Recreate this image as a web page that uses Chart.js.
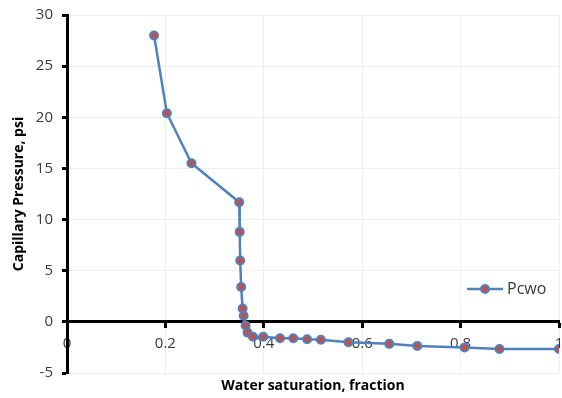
<!DOCTYPE html>
<html>
<head>
<meta charset="utf-8">
<script src="https://cdn.jsdelivr.net/npm/chart.js@4/dist/chart.umd.min.js"></script>
<style>
  html, body { margin: 0; padding: 0; background: #fff; overflow: hidden; }
  #wrap { position: relative; width: 562px; height: 398px; overflow: hidden; }
</style>
</head>
<body>
<div id="wrap"><canvas id="c" width="567" height="398"></canvas></div>
<script>
// Water-oil capillary pressure curve
const waterSaturation = [0.177, 0.203, 0.253, 0.350, 0.351, 0.352, 0.354, 0.357, 0.359, 0.363, 0.367,
                         0.378, 0.399, 0.433, 0.460, 0.488, 0.516, 0.572, 0.655, 0.712, 0.808, 0.879, 1.000];
const capillaryPressure = [28.0, 20.4, 15.5, 11.7, 8.8, 6.0, 3.4, 1.3, 0.6, -0.35, -1.05,
                           -1.45, -1.45, -1.6, -1.6, -1.7, -1.75, -2.0, -2.15, -2.35, -2.5, -2.65, -2.65];
const seriesName = 'Pcwo';
const xTickValues = [0, 0.2, 0.4, 0.6, 0.8, 1];
const yTickValues = [-5, 0, 5, 10, 15, 20, 25, 30];
const xAxisTitle = 'Water saturation, fraction';
const yAxisTitle = 'Capillary Pressure, psi';

const LINE = '#4F81BD';
const MARK = '#C0504D';
const TEXT = '#3a3a3a';
const FONT = '"Open Sans"';

// Axis titles and the legend entry, drawn on top of the plot
const overlay = {
  id: 'overlay',
  afterDraw(chart) {
    const { ctx, chartArea: a } = chart;
    ctx.save();
    ctx.fillStyle = '#000';
    ctx.font = `bold 14px ${FONT}`;
    ctx.textAlign = 'center';
    ctx.textBaseline = 'middle';
    ctx.fillText(xAxisTitle, (a.left + a.right) / 2, a.bottom + 13);
    ctx.save();
    ctx.translate(19, (a.top + a.bottom) / 2);
    ctx.rotate(-Math.PI / 2);
    ctx.fillText(yAxisTitle, 0, 0);
    ctx.restore();

    // legend
    const ly = a.top + 274;
    const lx = a.right - 92;
    ctx.strokeStyle = LINE;
    ctx.lineWidth = 2.5;
    ctx.beginPath();
    ctx.moveTo(lx, ly);
    ctx.lineTo(lx + 36, ly);
    ctx.stroke();
    ctx.beginPath();
    ctx.arc(lx + 18, ly, 4, 0, Math.PI * 2);
    ctx.fillStyle = MARK;
    ctx.fill();
    ctx.lineWidth = 2;
    ctx.stroke();
    ctx.fillStyle = TEXT;
    ctx.font = `16px ${FONT}`;
    ctx.textAlign = 'left';
    ctx.fillText(seriesName, lx + 40, ly);
    ctx.restore();
  }
};

const tickFont = { family: FONT, size: 15 };

new Chart(document.getElementById('c'), {
  type: 'scatter',
  data: {
    datasets: [{
      label: seriesName,
      data: waterSaturation.map((x, i) => ({ x, y: capillaryPressure[i] })),
      showLine: true,
      borderColor: LINE,
      borderWidth: 2.5,
      pointRadius: 4,
      pointBorderWidth: 2,
      pointBackgroundColor: MARK,
      pointBorderColor: LINE,
      tension: 0
    }]
  },
  options: {
    responsive: false,
    animation: false,
    layout: { padding: { left: 0, right: 8, top: 15, bottom: 25 } },
    plugins: { legend: { display: false }, tooltip: { enabled: false } },
    scales: {
      x: {
        type: 'linear',
        position: { y: 0 },
        min: 0,
        max: 1,
        afterBuildTicks: s => { s.ticks = xTickValues.map(v => ({ value: v })); },
        afterFit: s => { s.paddingLeft = 0; s.paddingRight = 0; },
        ticks: {
          autoSkip: false, maxRotation: 0, padding: 8, color: TEXT, font: tickFont,
          callback: v => String(Math.round(v * 10) / 10)
        },
        grid: { color: '#eeeeee', lineWidth: 1, tickColor: '#000', tickLength: 5, tickWidth: 3 },
        border: { color: '#000', width: 3 }
      },
      y: {
        type: 'linear',
        min: -5,
        max: 30,
        afterBuildTicks: s => { s.ticks = yTickValues.map(v => ({ value: v })); },
        afterFit: s => { s.width = 67; s.paddingTop = 0; s.paddingBottom = 0; },
        ticks: { autoSkip: false, padding: 9, color: TEXT, font: tickFont },
        grid: { color: '#eeeeee', lineWidth: 1, tickColor: '#000', tickLength: 5, tickWidth: 3 },
        border: { color: '#000', width: 3 }
      }
    }
  },
  plugins: [overlay]
});
</script>
</body>
</html>
